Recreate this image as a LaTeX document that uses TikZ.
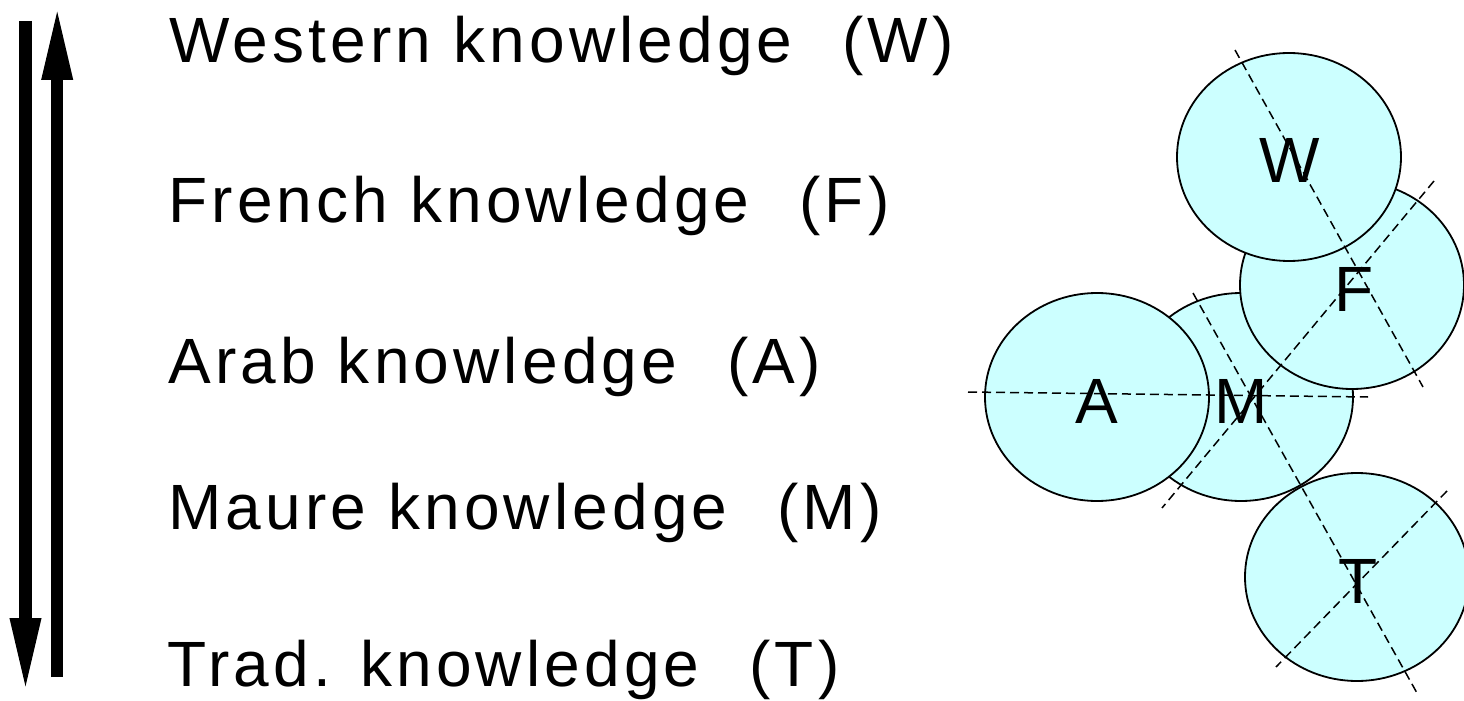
\documentclass[tikz,border=0pt]{standalone}
\usepackage{fontspec}
\setmainfont{Liberation Sans}
\newfontfamily\spacedfont[LetterSpace=6.5]{Liberation Sans}
\usetikzlibrary{arrows.meta,shapes.geometric}
\definecolor{paleblue}{HTML}{CCFFFF}
\begin{document}
\begin{tikzpicture}[x=0.5pt,y=-0.5pt,
  caption/.style={anchor=base west, inner sep=0pt, font=\spacedfont\fontsize{32}{38}\selectfont},
  ball/.style={ellipse, draw, line width=0.9pt, fill=paleblue,
    minimum width=112pt, minimum height=104pt, inner sep=0pt, outer sep=0pt},
  letter/.style={anchor=base, inner sep=0pt, font=\fontsize{32}{38}\selectfont},
  axis/.style={dash pattern=on 4.5pt off 2.5pt, line width=0.75pt},
  bigarrow/.style={line width=6.15pt, -{Triangle[length=37.5pt,width=14pt]}}
]
\useasboundingbox (0,0) rectangle (1464,701);

% two opposite arrows
\coordinate (downTop) at (25.5,21);
\coordinate (downTip) at (25.5,693);
\coordinate (upBottom) at (57.2,677);
\coordinate (upTip) at (57.2,5);
\draw[bigarrow] (downTop) -- (downTip);
\draw[bigarrow] (upBottom) -- (upTip);

% the five kinds of knowledge
\node[caption] (capW) at (169,63)  {Western knowledge\hspace{0.78em}(W)};
\node[caption] (capF) at (168,223) {French knowledge\hspace{0.78em}(F)};
\node[caption] (capA) at (168,383) {Arab knowledge\hspace{0.78em}(A)};
\node[caption] (capM) at (168,529) {Maure knowledge\hspace{0.78em}(M)};
\node[caption] (capT) at (167,686) {Trad. knowledge\hspace{0.78em}(T)};

% overlapping discs
\node[ball] (M) at (1241,397) {};
\node[ball] (A) at (1097,397) {};
\node[ball] (F) at (1352,285) {};
\node[ball] (W) at (1289,157) {};
\node[ball] (T) at (1357,577) {};

% dashed axes through the discs
\coordinate (a1s) at (1235,50);   \coordinate (a1e) at (1423,387);
\coordinate (a2s) at (1193,293);  \coordinate (a2e) at (1417,693);
\coordinate (a3s) at (1434,181);  \coordinate (a3e) at (1162,508);
\coordinate (a4s) at (1447,491);  \coordinate (a4e) at (1276,667);
\coordinate (a5s) at (968,392);   \coordinate (a5e) at (1368,397);
\draw[axis] (a1s) -- (a1e);
\draw[axis] (a2s) -- (a2e);
\draw[axis] (a3s) -- (a3e);
\draw[axis] (a4s) -- (a4e);
\draw[axis] (a5s) -- (a5e);

% disc letters
\node[letter] (Wl) at (1290,183) {W};
\node[letter] (Fl) at (1354,312) {F};
\node[letter] (Al) at (1097,423) {A};
\node[letter] (Ml) at (1241,423) {M};
\node[letter] (Tl) at (1358,603) {T};
\end{tikzpicture}
\end{document}
